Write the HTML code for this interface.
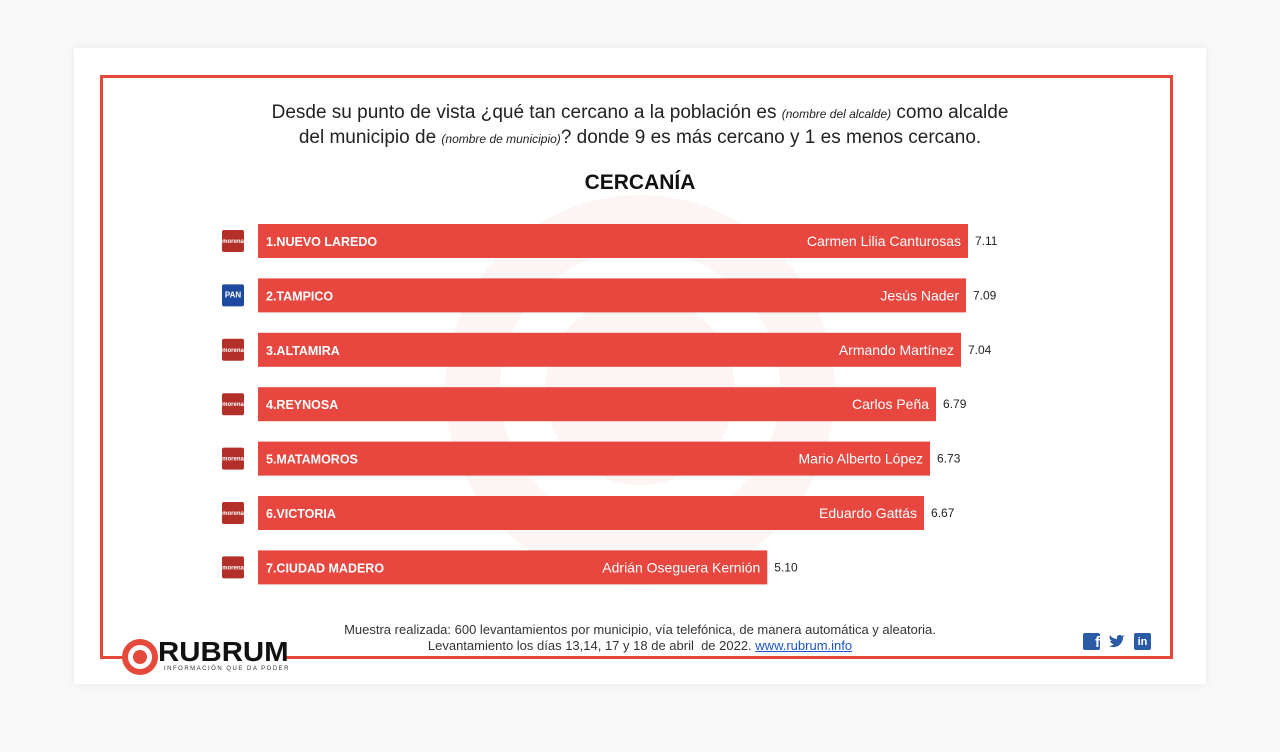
<!DOCTYPE html>
<html><head><meta charset="utf-8">
<style>
body{margin:0;width:1280px;height:752px;background:#f8f8f8;font-family:"Liberation Sans",sans-serif;position:relative;overflow:hidden}
#card{position:absolute;left:74px;top:48px;width:1132px;height:636px;background:#fff;box-shadow:0 0 8px rgba(0,0,0,0.08)}
#frame{position:absolute;left:100px;top:75px;width:1067px;height:581px;border:3px solid #e4493a;border-bottom:none}
#bottomline{position:absolute;left:284px;top:656px;width:889px;height:3px;background:#e4493a}
#bottomleft{position:absolute;left:100px;top:656px;width:25px;height:3px;background:#e4493a}
.t{position:absolute;text-align:center;width:1280px;left:0;color:#222}
</style></head><body>
<div id="card"></div>
<div id="frame"></div>
<div id="bottomline"></div>
<div id="bottomleft"></div>
<div class="t" style="top:101px;font-size:19px;line-height:24px">Desde su punto de vista ¿qué tan cercano a la población es <i style="font-size:12px">(nombre del alcalde)</i> como alcalde<br>del municipio de <i style="font-size:12px">(nombre de municipio)</i>? donde 9 es más cercano y 1 es menos cercano.</div>
<div class="t" style="top:171px;font-size:21px;font-weight:bold;color:#111">CERCANÍA</div>
<svg id="chart" width="1280" height="752" style="position:absolute;left:0;top:0">
<g opacity="0.05"><circle cx="640" cy="390" r="195" fill="#e4493a"/><circle cx="640" cy="390" r="140" fill="#fff"/><circle cx="640" cy="390" r="95" fill="#e4493a"/></g>
</svg>
<div class="t" style="top:622px;font-size:13px;line-height:16px;color:#333">Muestra realizada: 600 levantamientos por municipio, vía telefónica, de manera automática y aleatoria.<br>Levantamiento los días 13,14, 17 y 18 de abril &nbsp;de 2022. <span style="color:#1a55c8;text-decoration:underline">www.rubrum.info</span></div>
<div style="position:absolute;left:122px;top:639px;width:36px;height:36px;border-radius:50%;background:#e4493a"><div style="position:absolute;left:6px;top:6px;width:24px;height:24px;border-radius:50%;background:#fff"></div><div style="position:absolute;left:11px;top:11px;width:14px;height:14px;border-radius:50%;background:#e4493a"></div></div>
<div style="position:absolute;left:158px;top:636px;font-size:28px;font-weight:bold;color:#111;transform:scaleX(1.05);transform-origin:left">RUBRUM</div>
<div style="position:absolute;left:164px;top:666px;font-size:6px;color:#333;letter-spacing:1.5px">INFORMACIÓN QUE DA PODER</div>
<div style="position:absolute;left:1083px;top:633px;width:17px;height:17px;background:#2b5aa6;border-radius:2px;color:#fff;font-weight:bold;font-size:15px;text-align:right;line-height:20px">f</div>
<svg style="position:absolute;left:1108px;top:634px" width="18" height="15"><path d="M1 12 C6 15 15 12 15 3 L17 1 L14 2 C12 0 8 1 9 5 C6 5 3 3 2 1 C1 4 2 6 4 7 L2 7 C3 9 4 10 6 10 C4 12 2 12 1 12Z" fill="#2b5aa6"/></svg>
<div style="position:absolute;left:1134px;top:633px;width:17px;height:17px;background:#2b5aa6;border-radius:2px;color:#fff;font-weight:bold;font-size:11px;text-align:center;line-height:18px">in</div>
<script>
const categories=["1.NUEVO LAREDO","2.TAMPICO","3.ALTAMIRA","4.REYNOSA","5.MATAMOROS","6.VICTORIA","7.CIUDAD MADERO"];
const names=["Carmen Lilia Canturosas","Jesús Nader","Armando Martínez","Carlos  Peña","Mario Alberto López","Eduardo Gattás","Adrián Oseguera Kernión"];
const values=[7.11,7.09,7.04,6.79,6.73,6.67,5.10];
const parties=["morena","pan","morena","morena","morena","morena","morena"];
const NS="http://www.w3.org/2000/svg";
const svg=document.getElementById('chart');
const x0=258, pxPerUnit=710/7.11;
const xs=v=>x0+v*pxPerUnit;
const ys=i=>224+i*54.4;
function el(t,a){const e=document.createElementNS(NS,t);for(const k in a)e.setAttribute(k,a[k]);svg.appendChild(e);return e;}
values.forEach((v,i)=>{
  const y=ys(i);
  const r=el('rect',{x:x0,y:y,width:xs(v)-x0,height:34,fill:'#e8473f'});
  
  
  const c=el('text',{x:x0+8,y:y+22,fill:'#fff','font-size':12.5,'font-weight':'bold'});
  c.textContent=categories[i];
  
  
  const n=el('text',{x:xs(v)-7,y:y+22,fill:'#fff','font-size':14,'text-anchor':'end'});
  n.textContent=names[i];
  
  
  const vl=el('text',{x:xs(v)+7,y:y+21,fill:'#222','font-size':12});
  vl.textContent=v.toFixed(2);
  
  
  const g=el('rect',{x:222,y:y+6,width:22,height:22,rx:2,fill:parties[i]==='pan'?'#1d4aa0':'#b3302a'});
  
  
  const gt=el('text',{x:233,y:y+19,fill:'#fff','font-size':parties[i]==='pan'?8:6,'text-anchor':'middle','font-weight':'bold'});
  gt.textContent=parties[i]==='pan'?'PAN':'morena';
  
  
});
</script>
</body></html>
